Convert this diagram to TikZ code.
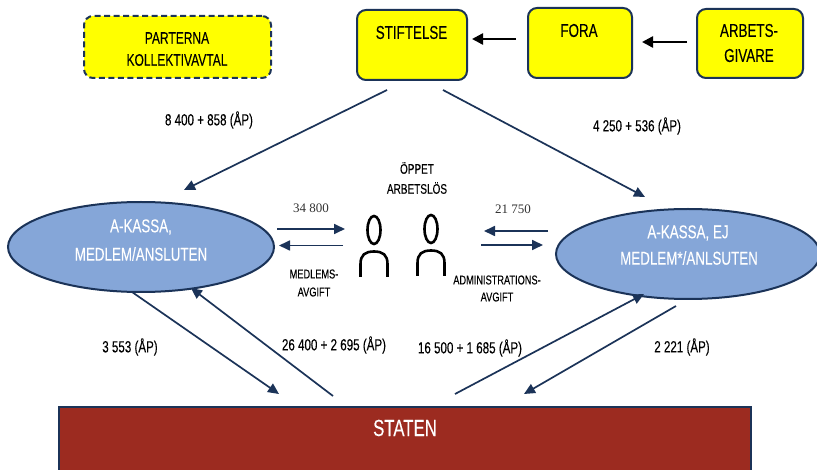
\documentclass[tikz,border=0pt]{standalone}
\usepackage{fontspec}
\setmainfont{Liberation Sans}[FakeStretch=0.72,FakeBold=0.12]
\newfontfamily\serifnum{Liberation Serif}
\usetikzlibrary{arrows.meta,shapes.geometric}
\definecolor{navy}{HTML}{1B3358}
\definecolor{yel}{HTML}{FFFF00}
\definecolor{blu}{HTML}{85A6D8}
\definecolor{brick}{HTML}{9C2B20}
\tikzset{
  ybox/.style={draw=navy,fill=yel,line width=2pt,rounded corners=9pt},
  oval/.style={draw=navy,fill=blu,line width=2pt,ellipse,inner sep=0pt},
  flow/.style={draw=navy,line width=1.7pt,-{Triangle[length=11pt,width=10pt]}},
  blk/.style={draw=black,line width=2.4pt,-{Triangle[length=11pt,width=11pt]}},
  big/.style={font=\fontsize{16.7}{18}\selectfont,text=black,align=center},
  bigger/.style={font=\fontsize{18.6}{20}\selectfont,text=black,align=center},
  wbig/.style={font=\fontsize{18.6}{20}\selectfont,text=white,align=center},
  val/.style={font=\fontsize{16.1}{18}\selectfont,text=black},
  tiny/.style={font=\fontsize{12.8}{15}\selectfont,text=black},
  mid/.style={font=\fontsize{13.9}{16}\selectfont,text=black},
  ser/.style={font=\serifnum\fontsize{13}{15}\selectfont,text=black!80},
  person/.style={line width=2.6pt,draw=black},
}
\begin{document}
\begin{tikzpicture}[x=1pt,y=-1pt]
\useasboundingbox (0,0) rectangle (817,470);
\fill[white] (0,0) rectangle (817,470);
% boxes
\node[ybox,dashed,dash pattern=on 6pt off 3.5pt,minimum width=187pt,minimum height=62pt] (part) at (177.5,47) {};
\node[ybox,minimum width=110pt,minimum height=70pt] (stift) at (412,45) {};
\node[ybox,minimum width=104pt,minimum height=70pt] (fora) at (580,43) {};
\node[ybox,minimum width=106pt,minimum height=69pt] (arb) at (750,43.5) {};
\node[big] (t1) at (177,38) {PARTERNA};
\node[big] (t2) at (177,60) {KOLLEKTIVAVTAL};
\node[bigger] (t3) at (411.5,32.5) {STIFTELSE};
\node[bigger] (t4) at (579,30.5) {FORA};
\node[bigger] (t5) at (749,30.5) {ARBETS-};
\node[bigger] (t6) at (749,55.5) {GIVARE};
% ovals
\node[oval,minimum width=266pt,minimum height=90pt] (ol) at (141,247) {};
\node[oval,minimum width=264pt,minimum height=90pt] (or) at (688,254) {};
\node[wbig] (t7) at (141,227) {A-KASSA,};
\node[wbig] (t8) at (141,254) {MEDLEM/ANSLUTEN};
\node[wbig] (t9) at (688,233) {A-KASSA, EJ};
\node[wbig] (t10) at (689,258) {MEDLEM*/ANLSUTEN};
% staten
\node[draw=navy,fill=brick,line width=2pt,minimum width=692pt,minimum height=70pt,anchor=north west] (st) at (58,406) {};
\node[wbig,font=\fontsize{23.3}{26}\selectfont] (t11) at (405,428) {STATEN};
% people
\node[person,ellipse,minimum width=13pt,minimum height=28pt,inner sep=0pt] (h1) at (374,230) {};
\node[person,ellipse,minimum width=13pt,minimum height=28pt,inner sep=0pt] (h2) at (431,229) {};
\draw[person] (360.5,277) -- (360.5,264) .. controls (360.5,255) and (365,251.5) .. (374,251.5) .. controls (383,251.5) and (387.5,255) .. (387.5,264) -- (387.5,277);
\draw[person] (417.5,276) -- (417.5,263) .. controls (417.5,254) and (422,250.5) .. (431,250.5) .. controls (440,250.5) and (444.5,254) .. (444.5,263) -- (444.5,276);
% coordinates
\coordinate (a1) at (516,39); \coordinate (a2) at (472,39);
\coordinate (b1) at (687,42); \coordinate (b2) at (642,42);
\coordinate (c1) at (387,90); \coordinate (c2) at (184,190);
\coordinate (d1) at (443,90); \coordinate (d2) at (645,197);
\coordinate (e1) at (277,229); \coordinate (e2) at (345,229);
\coordinate (f1) at (343,245.5); \coordinate (f2) at (279,245.5);
\coordinate (g1) at (548,231); \coordinate (g2) at (484,231);
\coordinate (h3) at (481,245); \coordinate (h4) at (543,245);
\coordinate (i1) at (132,292); \coordinate (i2) at (279,394);
\coordinate (j1) at (333,396); \coordinate (j2) at (191,288);
\coordinate (k1) at (455,394); \coordinate (k2) at (644,294);
\coordinate (l1) at (676,306); \coordinate (l2) at (524,394);
\draw[blk] (a1) -- (a2);
\draw[blk] (b1) -- (b2);
\draw[flow] (c1) -- (c2);
\draw[flow] (d1) -- (d2);
\draw[flow] (e1) -- (e2);
\draw[flow] (f1) -- (f2);
\draw[flow] (g1) -- (g2);
\draw[flow] (h3) -- (h4);
\draw[flow] (i1) -- (i2);
\draw[flow] (j1) -- (j2);
\draw[flow] (k1) -- (k2);
\draw[flow] (l1) -- (l2);
% labels
\node[val] (v1) at (209,120) {8 400 + 858 (ÅP)};
\node[val] (v2) at (637,126) {4 250 + 536 (ÅP)};
\node[val] (v3) at (130,347) {3 553 (ÅP)};
\node[val] (v4) at (334,345) {26 400 + 2 695 (ÅP)};
\node[val] (v5) at (470,348) {16 500 + 1 685 (ÅP)};
\node[val] (v6) at (682,347) {2 221 (ÅP)};
\node[mid] (o1) at (417,168) {ÖPPET};
\node[mid] (o2) at (417,188) {ARBETSLÖS};
\node[ser] (n1) at (311,208) {34 800};
\node[ser] (n2) at (513,209) {21 750};
\node[tiny] (m1) at (314,274) {MEDLEMS-};
\node[tiny] (m2) at (314,292) {AVGIFT};
\node[tiny] (m3) at (497,280) {ADMINISTRATIONS-};
\node[tiny] (m4) at (497,297) {AVGIFT};
\end{tikzpicture}
\end{document}
